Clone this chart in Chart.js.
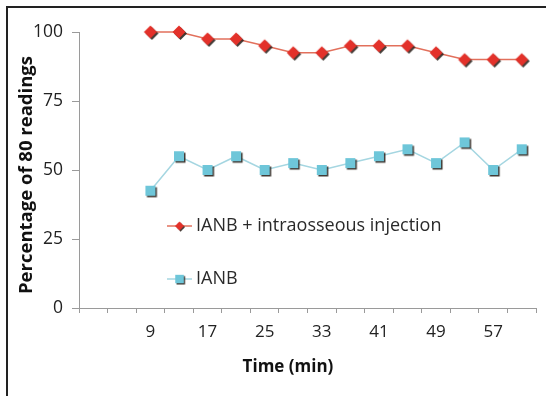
<!DOCTYPE html>
<html>
<head>
<meta charset="utf-8">
<script src="https://cdn.jsdelivr.net/npm/chart.js@4/dist/chart.umd.min.js"></script>
<style>
  html,body{margin:0;padding:0;background:#fff;width:546px;height:396px;overflow:hidden;}
  #frame{position:absolute;left:6px;top:6px;width:600px;height:450px;border-left:2px solid #222;border-top:2px solid #222;}
  #c{position:absolute;left:0;top:0;}
</style>
</head>
<body>
<div id="frame"></div>
<canvas id="c" width="546" height="396"></canvas>
<script>
// ---- data ----
const timeLabels = ['', '', '9', '13', '17', '21', '25', '29', '33', '37', '41', '45', '49', '53', '57', '61'];
const seriesNames = ['IANB + intraosseous injection', 'IANB'];
const ianbIntraosseous = [null, null, 100, 100, 97.5, 97.5, 95, 92.5, 92.5, 95, 95, 95, 92.5, 90, 90, 90];
const ianbOnly = [null, null, 42.5, 55, 50, 55, 50, 52.5, 50, 52.5, 55, 57.5, 52.5, 60, 50, 57.5];
const yTicks = [0, 25, 50, 75, 100];
const xTitle = 'Time (min)';
const yTitle = 'Percentage of 80 readings';

// ---- marker images ----
function marker(kind, fill) {
  const s = 18, c = document.createElement('canvas');
  c.width = s; c.height = s;
  const g = c.getContext('2d');
  const m = s / 2;
  function shape(dx, dy) {
    g.beginPath();
    if (kind === 'diamond') {
      const r = 6.5;
      g.moveTo(m + dx, m - r + dy); g.lineTo(m + r + dx, m + dy);
      g.lineTo(m + dx, m + r + dy); g.lineTo(m - r + dx, m + dy);
    } else {
      const r = 5;
      g.rect(m - r + dx, m - r + dy, 2 * r, 2 * r);
    }
    g.closePath(); g.fill();
  }
  g.fillStyle = 'rgba(45,38,32,0.9)'; shape(1.5, 1.5);
  g.fillStyle = fill; shape(0, 0);
  return c;
}
const redMarker = marker('diamond', '#e3312a');
const blueMarker = marker('square', '#6ec6d9');

const lineFont = "'Open Sans', Lato, sans-serif";

// ---- custom legend & titles ----
const overlay = {
  id: 'overlay',
  afterDraw(chart) {
    const ctx = chart.ctx, a = chart.chartArea;
    ctx.save();
    const items = [
      {name: seriesNames[0], color: '#e2705c', img: redMarker, y: a.top + 194},
      {name: seriesNames[1], color: '#a5d6e1', img: blueMarker, y: a.top + 247}
    ];
    items.forEach(it => {
      const x0 = a.left + 88, x1 = a.left + 113;
      ctx.strokeStyle = it.color; ctx.lineWidth = 1.5;
      ctx.beginPath(); ctx.moveTo(x0, it.y); ctx.lineTo(x1, it.y); ctx.stroke();
      const sc = it.img === redMarker ? 0.7 : 0.85;
      const w = it.img.width * sc;
      ctx.drawImage(it.img, (x0 + x1) / 2 - w / 2, it.y - w / 2, w, w);
      ctx.fillStyle = '#2a2a2a';
      ctx.font = "18px " + lineFont;
      ctx.textBaseline = 'middle'; ctx.textAlign = 'left';
      ctx.fillText(it.name, x1 + 4, it.y);
    });
    // axis titles
    ctx.fillStyle = '#111';
    ctx.font = "bold 17px " + lineFont;
    ctx.textAlign = 'center'; ctx.textBaseline = 'middle';
    ctx.fillText(xTitle, 288, 367);
    ctx.font = "bold 18.5px " + lineFont;
    ctx.translate(27, 175); ctx.rotate(-Math.PI / 2);
    ctx.fillText(yTitle, 0, 0);
    ctx.restore();
  }
};

new Chart(document.getElementById('c'), {
  type: 'line',
  data: {
    labels: timeLabels,
    datasets: [
      {label: seriesNames[0], data: ianbIntraosseous, borderColor: '#e2705c', borderWidth: 1.5,
       pointStyle: redMarker, pointRadius: 7, pointHoverRadius: 7, tension: 0, clip: false},
      {label: seriesNames[1], data: ianbOnly, borderColor: '#a5d6e1', borderWidth: 1.5,
       pointStyle: blueMarker, pointRadius: 7, pointHoverRadius: 7, tension: 0, clip: false}
    ]
  },
  options: {
    responsive: false,
    animation: false,
    layout: {padding: {left: 0, right: 10, top: 32, bottom: 0}},
    plugins: {legend: {display: false}, tooltip: {enabled: false}},
    scales: {
      x: {
        offset: true,
        grid: {offset: true, drawOnChartArea: false, drawTicks: true, tickLength: 5, color: '#9a9a9a'},
        border: {color: '#9a9a9a', width: 1},
        ticks: {
          autoSkip: false, maxRotation: 0, padding: 9, color: '#222',
          font: {family: lineFont, size: 17},
          callback: function(v, i) { return i % 2 === 0 ? timeLabels[i] : ''; }
        },
        afterFit(s) { s.height = 88; }
      },
      y: {
        min: 0, max: 100,
        afterBuildTicks(s) { s.ticks = yTicks.map(v => ({value: v})); },
        grid: {drawOnChartArea: false, drawTicks: true, tickLength: 7, color: '#9a9a9a'},
        border: {color: '#9a9a9a', width: 1},
        ticks: {padding: 9, color: '#222', font: {family: lineFont, size: 17.5}},
        afterFit(s) { s.width = 79; }
      }
    }
  },
  plugins: [overlay]
});
</script>
</body>
</html>
